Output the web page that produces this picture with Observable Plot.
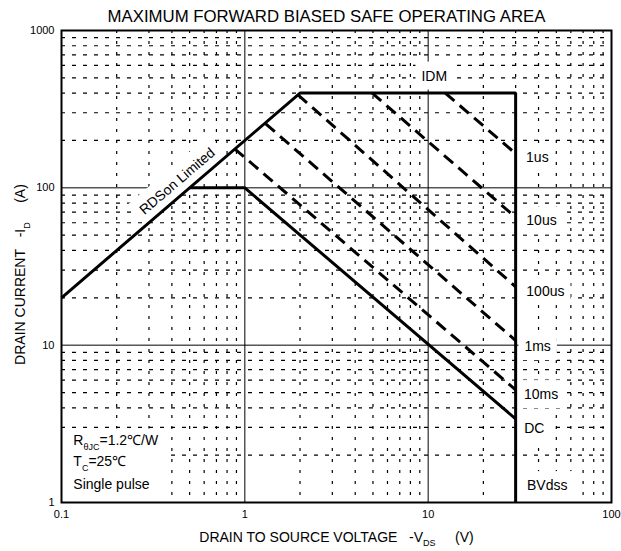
<!DOCTYPE html>
<html><head><meta charset="utf-8">
<script src="https://cdn.jsdelivr.net/npm/d3@7"></script>
<script src="https://cdn.jsdelivr.net/npm/@observablehq/plot@0.6"></script>
<style>body{margin:0;background:#fff;}</style>
</head><body><div id="chart"></div>
<script>
// ---- scale ticks & labels ----
const xTicks = [0.1, 1, 10, 100];
const xTickLabels = ["0.1", "1", "10", "100"];
const yTicks = [1, 10, 100, 1000];
const yTickLabels = ["1", "10", "100", "1000"];
const xMajor = [1, 10];
const yMajor = [10, 100];
const xMinor = [0.2,0.3,0.4,0.5,0.6,0.7,0.8,0.9, 2,3,4,5,6,7,8,9, 20,30,40,50,60,70,80,90];
const yMinor = [2,3,4,5,6,7,8,9, 20,30,40,50,60,70,80,90, 200,300,400,500,600,700,800,900];

// ---- texts ----
const titleText = "MAXIMUM FORWARD BIASED SAFE OPERATING AREA";
const xLabel = "DRAIN TO SOURCE VOLTAGE\u00A0\u00A0\u00A0-V_{DS}\u00A0\u00A0\u00A0\u00A0\u00A0(V)";
const yLabel = "DRAIN CURRENT\u00A0\u00A0\u00A0-I_{D}\u00A0\u00A0\u00A0\u00A0\u00A0(A)";

// ---- SOA boundary (RDSon limit, IDM, BVdss) ----
const boundaryV = [0.1, 2, 30, 30];
const boundaryI = [20, 400, 400, 1];
// ---- DC line ----
const dcV = [0.5, 1, 30];
const dcI = [100, 100, 3.4];
// ---- pulse lines (dashed) ----
const pulseNames = ["1us", "10us", "100us", "1ms", "10ms"];
const pulseV = [[12.4, 30], [4.95, 30], [1.95, 30], [1.3, 30], [0.88, 30]];
const pulseI = [[400, 165], [400, 65], [390, 23.5], [255, 10.7], [177, 5.2]];

// ---- curve labels ----
const idmText = "IDM";
const idmV = 10.8, idmI = 513;
const labelTexts = ["1us", "10us", "100us", "1ms", "10ms", "DC", "BVdss"];
const labelV = [34.2, 34.3, 34.3, 33.5, 33.3, 33.4, 34.6];
const labelI = [155, 61.7, 21.9, 9.77, 4.85, 2.97, 1.28];
const rdsText = "RDSon Limited";
const rdsV = 0.428, rdsI = 110;

// ---- notes ----
const noteTexts = ["R_{θJC}=1.2℃/W", "T_{C}=25℃", "Single pulse"];
const noteV = [0.116, 0.116, 0.116];
const noteI = [2.46, 1.81, 1.31];

// ---- tables ----
const boundary = boundaryV.map((v, k) => ({v, i: boundaryI[k]}));
const dc = dcV.map((v, k) => ({v, i: dcI[k]}));
const pulses = pulseNames.flatMap((name, k) => pulseV[k].map((v, j) => ({name, v, i: pulseI[k][j]})));
const labels = labelTexts.map((t, k) => ({t, v: labelV[k], i: labelI[k]}));
const notes = noteTexts.map((t, k) => ({t, v: noteV[k], i: noteI[k]}));

const font = "'Liberation Sans', Arial, Helvetica, sans-serif";

const svg = Plot.plot({
  width: 621,
  height: 551,
  marginLeft: 61,
  marginRight: 10,
  marginTop: 30,
  marginBottom: 49,
  style: {fontFamily: font, fontSize: "11px", background: "white", color: "black"},
  x: {type: "log", domain: [0.1, 100]},
  y: {type: "log", domain: [1, 1000]},
  marks: [
    Plot.ruleX(xMinor, {stroke: "black", strokeWidth: 1.2, strokeDasharray: "3,8"}),
    Plot.ruleY(yMinor, {stroke: "black", strokeWidth: 1.2, strokeDasharray: "4,7"}),
    Plot.ruleX(xMajor, {stroke: "black", strokeWidth: 1}),
    Plot.ruleY(yMajor, {stroke: "black", strokeWidth: 1}),
    Plot.line(pulses, {x: "v", y: "i", z: "name", stroke: "black", strokeWidth: 3, strokeDasharray: "12,7", strokeLinecap: "butt", ariaDescription: "curves"}),
    Plot.line(dc, {x: "v", y: "i", stroke: "black", strokeWidth: 3, strokeLinejoin: "miter", strokeLinecap: "butt", ariaDescription: "curves"}),
    Plot.line(boundary, {x: "v", y: "i", stroke: "black", strokeWidth: 3, strokeLinejoin: "miter", strokeLinecap: "butt", ariaDescription: "curves"}),
    Plot.frame({stroke: "black", strokeWidth: 2}),
    Plot.axisX({ticks: xTicks, tickFormat: d => xTickLabels[xTicks.indexOf(d)], tickSize: 0, tickPadding: 8, label: null, fontSize: 11}),
    Plot.axisY({ticks: yTicks, tickFormat: d => yTickLabels[yTicks.indexOf(d)], tickSize: 0, tickPadding: 7, label: null, fontSize: 11}),
    Plot.text([idmText], {x: () => idmV, y: () => idmI, text: d => d, textAnchor: "middle", fontSize: 14, fill: "black", ariaDescription: "labels"}),
    Plot.text(labels, {x: "v", y: "i", text: "t", textAnchor: "start", fontSize: 14, fill: "black", ariaDescription: "labels"}),
    Plot.text([rdsText], {x: () => rdsV, y: () => rdsI, text: d => d, rotate: -40.6, textAnchor: "middle", fontSize: 14, fill: "black", ariaDescription: "labels"}),
    Plot.text(notes, {x: "v", y: "i", text: "t", textAnchor: "start", fontSize: 14, fill: "black", ariaDescription: "notes"}),
    Plot.text([titleText], {frameAnchor: "top", dy: -14, dx: -10, text: d => d, textAnchor: "middle", lineAnchor: "middle", fontSize: 16.8, fill: "black"}),
    Plot.text([xLabel], {frameAnchor: "bottom", dy: 35, text: d => d, textAnchor: "middle", lineAnchor: "middle", fontSize: 14, fill: "black"}),
    Plot.text([yLabel], {frameAnchor: "left", dx: -40.5, dy: 8, rotate: -90, text: d => d, textAnchor: "middle", lineAnchor: "middle", fontSize: 14, fill: "black"})
  ]
});
document.getElementById("chart").append(svg);

const NS = "http://www.w3.org/2000/svg";
// subscripts: "_{...}"
svg.querySelectorAll("text").forEach(t => {
  const s = t.textContent;
  if (!s.includes("_{")) return;
  const parts = s.split(/_\{([^}]*)\}/);
  t.textContent = "";
  parts.forEach((p, k) => {
    if (!p) return;
    const ts = document.createElementNS(NS, "tspan");
    ts.textContent = p;
    if (k % 2 === 1) {
      ts.setAttribute("font-size", "9");
      ts.setAttribute("dy", "4.5");
    } else if (k > 0) {
      ts.setAttribute("dy", "-4.5");
    }
    t.appendChild(ts);
  });
});

// white boxes behind labels (inserted below curves, above grid)
const boxG = document.createElementNS(NS, "g");
boxG.setAttribute("aria-label", "label-boxes");
const firstCurve = svg.querySelector('[aria-description="curves"]');
svg.insertBefore(boxG, firstCurve);
function addRect(x, y, w, h, m) {
  const r = document.createElementNS(NS, "rect");
  r.setAttribute("x", x); r.setAttribute("y", y);
  r.setAttribute("width", w); r.setAttribute("height", h);
  r.setAttribute("fill", "white");
  if (m) r.setAttribute("transform", `matrix(${m.a},${m.b},${m.c},${m.d},${m.e},${m.f})`);
  boxG.appendChild(r);
}
const padX = 6, padY = 6;
svg.querySelectorAll('[aria-description="labels"] text').forEach(t => {
  const b = t.getBBox();
  const m = t.getCTM();
  addRect(b.x - padX, b.y - padY, b.width + 2 * padX, b.height + 2 * padY, m);
});
// notes: one union box
const sr = svg.getBoundingClientRect();
let x0 = Infinity, y0 = Infinity, x1 = -Infinity, y1 = -Infinity;
svg.querySelectorAll('[aria-description="notes"] text').forEach(t => {
  const r = t.getBoundingClientRect();
  x0 = Math.min(x0, r.left - sr.left); y0 = Math.min(y0, r.top - sr.top);
  x1 = Math.max(x1, r.right - sr.left); y1 = Math.max(y1, r.bottom - sr.top);
});
if (isFinite(x0)) addRect(x0 - 12, y0 - 4, x1 - x0 + 19, y1 - y0 + 14, null);
</script>
</body></html>
